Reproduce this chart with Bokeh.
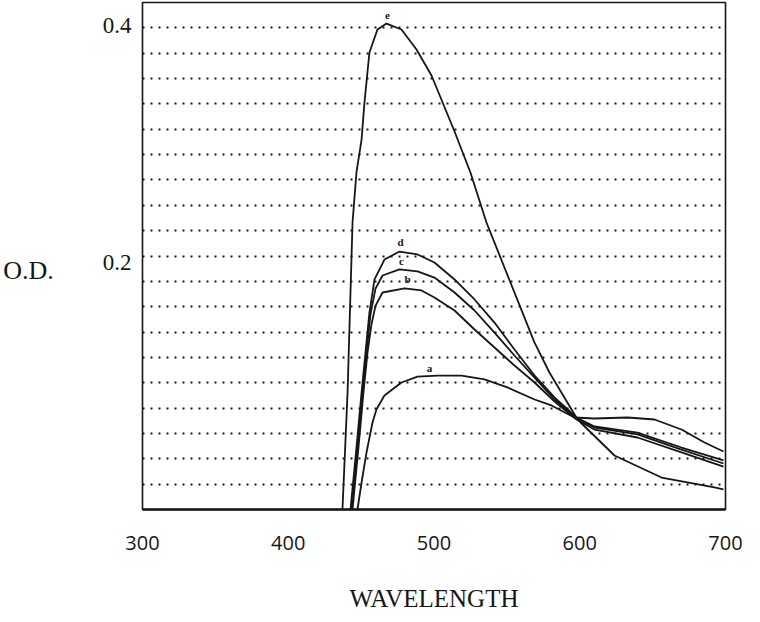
from bokeh.plotting import figure
from bokeh.models import FixedTicker, ColumnDataSource
from bokeh.core.properties import value
from bokeh.embed import file_html
from bokeh.resources import INLINE

# ---- data ----
wl_e = [437.2, 440.7, 444.1, 446.8, 450.3, 452.3, 455.7, 461.2, 467.4, 477.7, 488.0, 498.3,
        514.1, 525.0, 536.0, 568.9, 579.2, 598.5, 623.8, 656.1, 692.4, 698.6]
od_e = [0.000, 0.0923, 0.2264, 0.2659, 0.2919, 0.3211, 0.3606, 0.3787, 0.3834, 0.3787, 0.3629, 0.3424,
        0.2982, 0.2659, 0.2264, 0.1318, 0.1081, 0.0710, 0.0426, 0.0252, 0.0174, 0.0158]

wl_d = [442.7, 446.8, 450.3, 453.0, 455.7, 459.2, 466.0, 476.3, 488.7, 500.3, 514.1, 527.8,
        541.5, 555.2, 569.0, 582.7, 597.8, 610.1, 639.6, 669.8, 698.6]
od_d = [0.000, 0.0489, 0.0923, 0.1239, 0.1554, 0.1815, 0.1972, 0.2035, 0.2012, 0.1949, 0.1815, 0.1657,
        0.1475, 0.1262, 0.1057, 0.0884, 0.0726, 0.0655, 0.0607, 0.0489, 0.0387]

wl_c = [443.4, 447.5, 450.9, 453.7, 456.4, 459.9, 464.7, 476.3, 488.7, 500.3, 514.1, 527.8,
        541.5, 555.2, 569.0, 582.7, 597.8, 610.1, 639.6, 669.8, 698.6]
od_c = [0.000, 0.0489, 0.0923, 0.1239, 0.1538, 0.1744, 0.1846, 0.1894, 0.1878, 0.1830, 0.1712, 0.1570,
        0.1396, 0.1215, 0.1041, 0.0868, 0.0718, 0.0647, 0.0592, 0.0473, 0.0363]

wl_b = [444.1, 448.2, 451.6, 454.4, 457.1, 459.9, 464.7, 479.8, 491.4, 500.3, 514.1, 527.8,
        541.5, 555.2, 569.0, 582.7, 597.8, 610.1, 639.6, 669.8, 698.6]
od_b = [0.000, 0.0489, 0.0923, 0.1239, 0.1460, 0.1609, 0.1712, 0.1744, 0.1728, 0.1673, 0.1570, 0.1420,
        0.1278, 0.1136, 0.1002, 0.0852, 0.0710, 0.0631, 0.0568, 0.0450, 0.0339]

wl_a = [447.5, 450.3, 453.7, 457.8, 460.5, 466.0, 477.7, 488.7, 502.4, 518.9, 534.6, 550.4,
        569.0, 580.6, 596.4, 610.1, 632.8, 651.3, 669.8, 685.6, 698.6]
od_a = [0.000, 0.0213, 0.0450, 0.0686, 0.0789, 0.0899, 0.1002, 0.1049, 0.1057, 0.1057, 0.1026, 0.0963,
        0.0868, 0.0821, 0.0726, 0.0718, 0.0726, 0.0710, 0.0631, 0.0529, 0.0458]

curve_names = ["e", "d", "c", "b", "a"]
label_x = [468.1, 477.0, 477.7, 481.8, 496.9]
label_y = [0.3897, 0.2107, 0.1964, 0.1815, 0.1120]

x_ticks = [300, 400, 500, 600, 700]
y_ticks = [0.2, 0.4]
y_tick_labels = ["0.2", "0.4"]
grid_levels = [0.02, 0.04, 0.06, 0.08, 0.10, 0.12, 0.14, 0.16, 0.18, 0.20,
               0.22, 0.24, 0.26, 0.28, 0.30, 0.32, 0.34, 0.36, 0.38]

INK = "#161616"

p = figure(frame_width=583, frame_height=507,
           min_border_left=140, min_border_right=21, min_border_top=2, min_border_bottom=97,
           x_range=(300, 700), y_range=(0, 0.4),
           output_backend="svg", toolbar_location=None,
           background_fill_color="white", border_fill_color="white")

p.outline_line_color = INK
p.outline_line_width = 1.6

# grid: dotted horizontal lines
p.xgrid.visible = False
p.ygrid.ticker = FixedTicker(ticks=grid_levels)
p.ygrid.grid_line_color = INK
p.ygrid.grid_line_width = 1.8
p.ygrid.grid_line_dash = "2 6"

# x axis
xa = p.xaxis[0]
xa.ticker = FixedTicker(ticks=x_ticks)
xa.axis_line_color = INK
xa.axis_line_width = 2.5
xa.major_tick_in = 0
xa.major_tick_out = 0
xa.minor_tick_line_color = None
xa.major_label_standoff = 26
xa.major_label_text_font = "Open Sans"
xa.major_label_text_font_size = "20px"
xa.major_label_text_color = INK
xa.axis_label = "WAVELENGTH"
xa.axis_label_text_font = "Liberation Serif"
xa.axis_label_text_font_size = "25px"
xa.axis_label_text_font_style = "normal"
xa.axis_label_text_color = INK
xa.axis_label_standoff = 32

# y axis (labels sit a little below their tick, as in the scan)
ya = p.yaxis[0]
ya.ticker = FixedTicker(ticks=y_ticks)
ya.axis_line_color = None
ya.major_tick_in = 0
ya.major_tick_out = 0
ya.minor_tick_line_color = None
ya.major_label_overrides = {t: "\n" + s for t, s in zip(y_ticks, y_tick_labels)}
ya.major_label_standoff = 11
ya.major_label_text_font = "Liberation Serif"
ya.major_label_text_font_size = "23px"
ya.major_label_text_line_height = 0.5
ya.major_label_text_color = INK
ya.axis_label = "\nO.D."
ya.axis_label_orientation = "horizontal"
ya.axis_label_text_font = "Liberation Serif"
ya.axis_label_text_font_size = "26px"
ya.axis_label_text_line_height = 1.0
ya.axis_label_text_font_style = "normal"
ya.axis_label_text_color = INK
ya.axis_label_standoff = 46

# curves
for wl, od in [(wl_e, od_e), (wl_d, od_d), (wl_c, od_c), (wl_b, od_b), (wl_a, od_a)]:
    p.line(wl, od, line_color=INK, line_width=1.8)

src = ColumnDataSource(dict(x=label_x, y=label_y, t=curve_names))
p.text(x="x", y="y", text="t", source=src, text_font=value("Liberation Serif"),
       text_font_size="11px", text_font_style="bold", text_color=INK,
       text_align="center", text_baseline="middle")

open("out.html", "w").write(file_html(p, INLINE))
